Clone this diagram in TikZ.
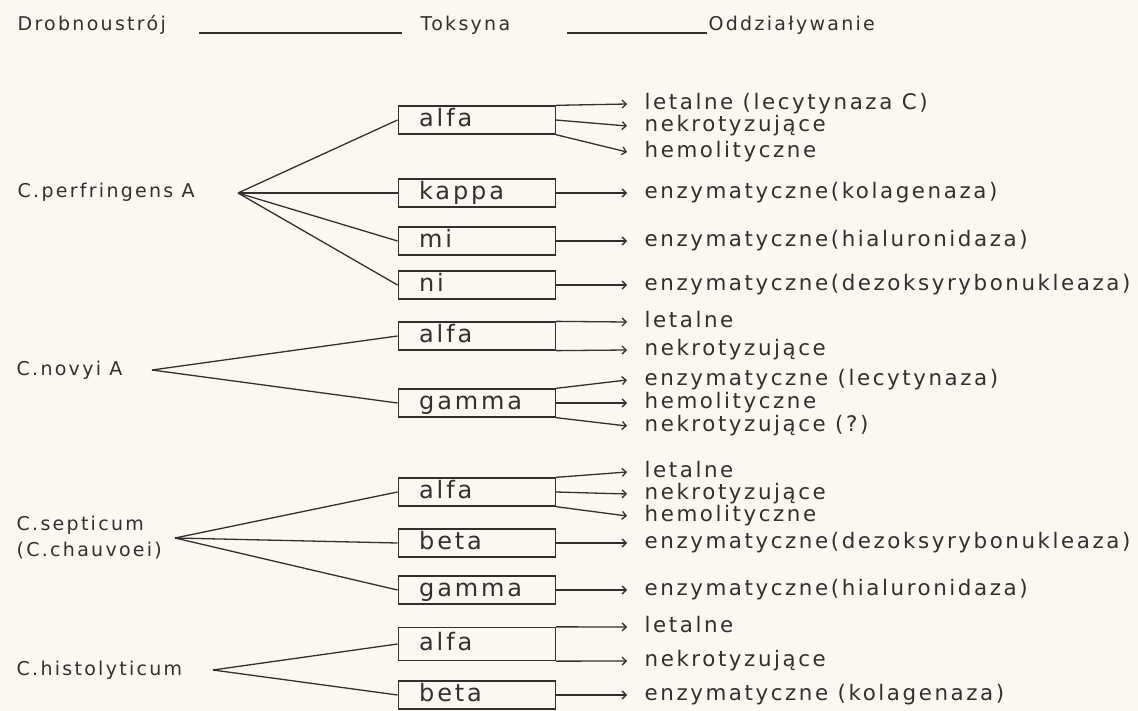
\documentclass[tikz,border=0pt]{standalone}
\usepackage{fontspec}
\setmainfont{DejaVu Sans}[LetterSpace=12]
\usetikzlibrary{arrows.meta}
\definecolor{paper}{RGB}{252,248,241}
\definecolor{ink}{RGB}{52,47,46}

\begin{document}
\begin{tikzpicture}[x=1pt, y=-1pt, color=ink, line width=1.3pt,
        font=\fontsize{19}{22}\selectfont,
        >={Straight Barb[length=4pt,width=8pt]},
        label/.style={anchor=west, inner sep=0pt, text height=10pt, text depth=0pt},
        effect/.style={label, inner xsep=17pt, text height=11.5pt, font=\fontsize{21.4}{24}\selectfont},
        toxin/.style={draw, rectangle, anchor=west, minimum height=28pt, text width=115pt,
            inner xsep=21pt, inner ysep=0pt, align=left, text height=13pt, text depth=0pt,
            font=\fontsize{24}{26}\selectfont}]
        \fill[paper] (0,0) rectangle (1138,711);
        \useasboundingbox (0,0) rectangle (1138,711);

        \node[label] (hmicro) at (17,26) {Drobnoustrój};
        \node[label] (htox) at (420,26) {Toksyna};
        \node[label] (heff) at (708,26) {Oddziaływanie};
        \draw (199,33) -- (402,33);
        \draw (567,33) -- (707,33);

        \node[label] (cperf) at (17,193) {C.perfringens A};
        \coordinate (fperf) at (238,193);
        \node[toxin] (pa) at (397.5,120) {alfa};
        \node[toxin] (pk) at (397.5,193) {kappa};
        \node[toxin] (pm) at (397.5,241) {mi};
        \node[toxin] (pn) at (397.5,285) {ni};
        \node[effect] (p1) at (627,104) {letalne (lecytynaza C)};
        \node[effect] (p2) at (627,126) {nekrotyzujące};
        \node[effect] (p3) at (627,152) {hemolityczne};
        \node[effect] (p4) at (627,193) {enzymatyczne(kolagenaza)};
        \node[effect] (p5) at (627,241) {enzymatyczne(hialuronidaza)};
        \node[effect] (p6) at (627,285) {enzymatyczne(dezoksyrybonukleaza)};
        \draw (fperf) -- (pa.west);
        \draw (fperf) -- (pk.west);
        \draw (fperf) -- (pm.west);
        \draw (fperf) -- (pn.west);
        \draw[->] (pa.north east) -- (p1.west);
        \draw[->] (pa.east) -- (p2.west);
        \draw[->] (pa.south east) -- (p3.west);
        \draw[->] (pk.east) -- (p4.west);
        \draw[->] (pm.east) -- (p5.west);
        \draw[->] (pn.east) -- (p6.west);

        \node[label] (cnov) at (16,370) {C.novyi A};
        \coordinate (fnov) at (152,370);
        \node[toxin] (na) at (397.5,336) {alfa};
        \node[toxin] (ng) at (397.5,403) {gamma};
        \node[effect] (n1) at (627,322) {letalne};
        \node[effect] (n2) at (627,350) {nekrotyzujące};
        \node[effect] (n3) at (627,380) {enzymatyczne (lecytynaza)};
        \node[effect] (n4) at (627,403) {hemolityczne};
        \node[effect] (n5) at (627,426) {nekrotyzujące (?)};
        \draw (fnov) -- (na.west);
        \draw (fnov) -- (ng.west);
        \draw[->] (na.north east) -- (n1.west);
        \draw[->] (na.south east) -- (n2.west);
        \draw[->] (ng.north east) -- (n3.west);
        \draw[->] (ng.east) -- (n4.west);
        \draw[->] (ng.south east) -- (n5.west);

        \node[label] (csep) at (16,525) {C.septicum};
        \node[label] (cchau) at (16,551) {(C.chauvoei)};
        \coordinate (fsep) at (175,538);
        \node[toxin] (sa) at (397.5,492) {alfa};
        \node[toxin] (sb) at (397.5,543) {beta};
        \node[toxin] (sg) at (397.5,590) {gamma};
        \node[effect] (s1) at (627,472) {letalne};
        \node[effect] (s2) at (627,494) {nekrotyzujące};
        \node[effect] (s3) at (627,516) {hemolityczne};
        \node[effect] (s4) at (627,543) {enzymatyczne(dezoksyrybonukleaza)};
        \node[effect] (s5) at (627,590) {enzymatyczne(hialuronidaza)};
        \draw (fsep) -- (sa.west);
        \draw (fsep) -- (sb.west);
        \draw (fsep) -- (sg.west);
        \draw[->] (sa.north east) -- (s1.west);
        \draw[->] (sa.east) -- (s2.west);
        \draw[->] (sa.south east) -- (s3.west);
        \draw[->] (sb.east) -- (s4.west);
        \draw[->] (sg.east) -- (s5.west);

        \node[label] (chis) at (16,670) {C.histolyticum};
        \coordinate (fhis) at (213,670);
        \node[toxin, minimum height=33pt] (ha) at (397.5,644) {alfa};
        \node[toxin] (hb) at (397.5,695) {beta};
        \node[effect] (h1) at (627,627) {letalne};
        \node[effect] (h2) at (627,661) {nekrotyzujące};
        \node[effect] (h3) at (627,695) {enzymatyczne (kolagenaza)};
        \draw (fhis) -- (ha.west);
        \draw (fhis) -- (hb.west);
        \draw[->] (ha.north east) -- (h1.west);
        \draw[->] (ha.south east) -- (h2.west);
        \draw[->] (hb.east) -- (h3.west);
\end{tikzpicture}
\end{document}
